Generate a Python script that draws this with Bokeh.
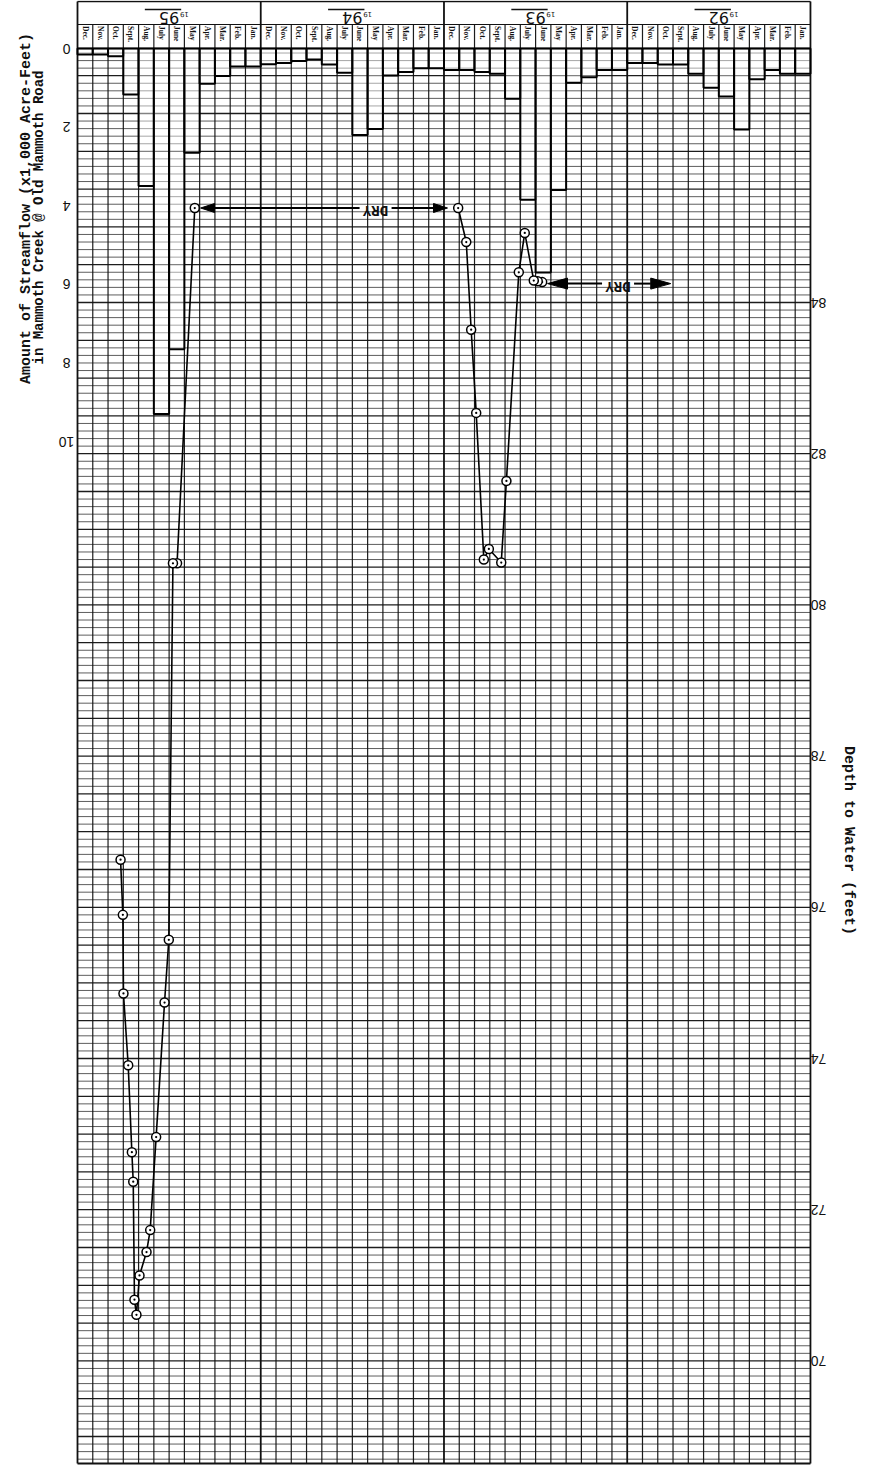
import math
import numpy as np
from bokeh.plotting import figure
from bokeh.models import Range1d
from bokeh.core.properties import value
from bokeh.embed import file_html
from bokeh.resources import INLINE

# ---------------------------------------------------------------- data
years = [1995, 1994, 1993, 1992]
month_labels = ["Dec.", "Nov.", "Oct.", "Sept.", "Aug.", "July",
                "June", "May", "Apr.", "Mar.", "Feb.", "Jan."]

# monthly streamflow (x1,000 acre-feet), Dec. -> Jan. within each year
flow_1995 = [0.15, 0.15, 0.20, 1.17, 3.50, 9.30, 7.65, 2.65, 0.90, 0.70, 0.46, 0.46]
flow_1994 = [0.40, 0.37, 0.32, 0.28, 0.41, 0.62, 2.20, 2.05, 0.69, 0.60, 0.50, 0.50]
flow_1993 = [0.55, 0.55, 0.60, 0.64, 1.28, 3.85, 5.70, 3.60, 0.87, 0.73, 0.55, 0.55]
flow_1992 = [0.37, 0.37, 0.41, 0.41, 0.64, 1.00, 1.22, 2.06, 0.78, 0.55, 0.64, 0.64]

flow_ticks = [0, 2, 4, 6, 8, 10]
depth_ticks = [70, 72, 74, 76, 78, 80, 82, 84]

# depth to water (feet); position in month columns counted from the left edge (Dec. 1995)
well_1993_pos = [30.43, 30.14, 29.88, 29.29, 28.90, 28.09, 27.75, 26.94, 26.61,
                 26.11, 25.78, 25.46, 24.93]
well_1993_depth = [84.27, 84.28, 84.29, 84.92, 84.40, 81.64, 80.56, 80.74, 80.60,
                   82.54, 83.64, 84.80, 85.25]
well_1995_pos = [7.68, 6.52, 6.25, 5.98, 5.70, 5.15, 4.76, 4.52, 4.06, 3.86, 3.73,
                 3.65, 3.56, 3.32, 3.01, 2.97, 2.82]
well_1995_depth = [85.25, 80.55, 80.55, 75.57, 74.74, 72.96, 71.73, 71.44, 71.13,
                   70.61, 70.81, 72.37, 72.76, 73.91, 74.86, 75.90, 76.63]

# periods when the well was dry
dry_from = [8.06, 30.78]
dry_to = [24.23, 38.85]
dry_label_pos = [19.52, 35.40]
dry_level = [85.25, 84.25]

# ---------------------------------------------------------------- layout
W, H = 874, 1480
X0, MW = 77.0, 15.27                  # left edge of the sheet, px per month column
D_REF, D_REF_PX, D_SCALE = 84.0, 302.0, 75.6   # depth axis: px per foot
F_ZERO_PX, F_SCALE = 48.0, 39.3       # streamflow axis: px per 1,000 AF
ROW_TOP, ROW_SPLIT, GRID_TOP, GRID_BOTTOM = 1.0, 24.0, 48.0, 1463.0
N_MONTHS = 12 * len(years)


def depth_at(px):
    return D_REF + (D_REF_PX - px) / D_SCALE


def month_at(px):
    return (px - X0) / MW


p = figure(width=W, height=H,
           x_range=Range1d(month_at(0), month_at(W)),
           y_range=Range1d(depth_at(H), depth_at(0)),
           x_axis_type=None, y_axis_type=None,
           toolbar_location=None, output_backend="svg",
           min_border=0, outline_line_color=None,
           background_fill_color="white", border_fill_color="white")
p.extra_y_ranges = {"flow": Range1d((H - F_ZERO_PX) / F_SCALE, -F_ZERO_PX / F_SCALE)}

INK = "#111111"

# ---------------------------------------------------------------- graph paper
tenths = np.arange(math.ceil(depth_at(GRID_BOTTOM) * 10 + 0.5),
                   math.floor(depth_at(GRID_TOP) * 10 - 0.5) + 1)
minor = tenths[tenths % 5 != 0] / 10.0
major = tenths[tenths % 5 == 0] / 10.0
p.segment(x0=0, x1=N_MONTHS, y0=minor, y1=minor, line_color=INK, line_alpha=0.68, line_width=1)
p.segment(x0=0, x1=N_MONTHS, y0=major, y1=major, line_color=INK, line_alpha=0.95, line_width=1.3)

cols = np.arange(0, N_MONTHS + 1)
month_lines = cols[cols % 12 != 0]
year_lines = cols[cols % 12 == 0]
p.segment(x0=month_lines, x1=month_lines, y0=depth_at(GRID_BOTTOM), y1=depth_at(ROW_SPLIT),
          line_color=INK, line_alpha=0.95, line_width=1.2)
p.segment(x0=year_lines, x1=year_lines, y0=depth_at(GRID_BOTTOM), y1=depth_at(ROW_TOP),
          line_color=INK, line_width=1.8)
for row, lw in [(ROW_TOP, 1.4), (ROW_SPLIT, 1.2), (GRID_TOP, 1.6), (GRID_BOTTOM, 1.8)]:
    p.segment(x0=0, x1=N_MONTHS, y0=depth_at(row), y1=depth_at(row), line_color=INK, line_width=lw)

# ---------------------------------------------------------------- header
year_x = [12 * i for i in range(len(years))]
p.text(x=[x + 6.0 for x in year_x], y=depth_at(17), text=[str(y)[2:] for y in years],
       angle=math.pi, text_align="center", text_baseline="middle",
       text_font=value("DejaVu Sans"), text_font_size="16px", text_color=INK)
p.text(x=[x + 7.0 for x in year_x], y=depth_at(14), text=[str(y)[:2] for y in years],
       angle=math.pi, text_align="center", text_baseline="middle",
       text_font=value("DejaVu Sans"), text_font_size="7px", text_color=INK)
p.segment(x0=[x + 4.41 for x in year_x], x1=[x + 6.79 for x in year_x],
          y0=depth_at(9), y1=depth_at(9), line_color=INK, line_width=1.3)

p.text(x=[k + 0.5 for k in range(N_MONTHS)], y=depth_at(25.5),
       text=month_labels * len(years), angle=-math.pi / 2,
       text_align="left", text_baseline="middle",
       text_font=value("Liberation Serif"), text_font_size="7.5px",
       text_font_style="bold", text_color=INK)

# ---------------------------------------------------------------- streamflow bars
flows = flow_1995 + flow_1994 + flow_1993 + flow_1992
p.quad(left=list(range(N_MONTHS)), right=list(range(1, N_MONTHS + 1)),
       top=[0] * N_MONTHS, bottom=flows, y_range_name="flow",
       fill_color="white", fill_alpha=0.45, line_color="black", line_width=2)

# ---------------------------------------------------------------- depth to water
for pos, dep in [(well_1993_pos, well_1993_depth), (well_1995_pos, well_1995_depth)]:
    p.line(pos, dep, line_color="black", line_width=1.6)
    p.scatter(pos, dep, marker="circle_dot", size=9, fill_color="white",
              line_color="black", line_width=1.5)

# dry periods: double-headed arrows with a label
head_len_px = [14, 20]
head_half_px = [4.5, 5.5]
gap = 16 / MW
for a, b, lab, lvl, hl, hh in zip(dry_from, dry_to, dry_label_pos, dry_level,
                                  head_len_px, head_half_px):
    L = hl / MW
    dy = hh / D_SCALE
    p.patches(xs=[[a, a + L, a + L], [b, b - L, b - L]],
              ys=[[lvl, lvl + dy, lvl - dy], [lvl, lvl + dy, lvl - dy]],
              fill_color="black", line_color="black", line_width=1)
    p.segment(x0=[a + L, lab + gap], x1=[lab - gap, b - L], y0=lvl, y1=lvl,
              line_color="black", line_width=2)
    p.text(x=[lab], y=[lvl - 2 / D_SCALE], text=["DRY"], angle=math.pi,
           text_align="center", text_baseline="middle",
           text_font=value("Liberation Mono"), text_font_size="14px",
           text_font_style="bold", text_color=INK)

# ---------------------------------------------------------------- axis labels
p.text(x=month_at(66), y=flow_ticks, text=[str(t) for t in flow_ticks],
       y_range_name="flow", angle=math.pi, text_align="center", text_baseline="middle",
       text_font=value("Liberation Sans"), text_font_size="14px", text_color=INK)
p.text(x=month_at(818), y=depth_ticks, text=[str(t) for t in depth_ticks],
       angle=math.pi, text_align="center", text_baseline="middle",
       text_font=value("Liberation Sans"), text_font_size="14px", text_color=INK)

p.text(x=[month_at(26)], y=[depth_at(208)],
       text=["Amount of Streamflow (x1,000 Acre-Feet)"], angle=math.pi / 2,
       text_align="center", text_baseline="middle",
       text_font=value("Liberation Mono"), text_font_size="15px",
       text_font_style="bold", text_color=INK)
p.text(x=[month_at(38)], y=[depth_at(217)],
       text=["in Mammoth Creek @ Old Mammoth Road"], angle=math.pi / 2,
       text_align="center", text_baseline="middle",
       text_font=value("Liberation Mono"), text_font_size="14px",
       text_font_style="bold", text_color=INK)
p.text(x=[month_at(848)], y=[depth_at(840)], text=["Depth to Water (feet)"],
       angle=-math.pi / 2, text_align="center", text_baseline="middle",
       text_font=value("Liberation Mono"), text_font_size="15px",
       text_font_style="bold", text_color=INK)

open("out.html", "w").write(file_html(p, INLINE))
